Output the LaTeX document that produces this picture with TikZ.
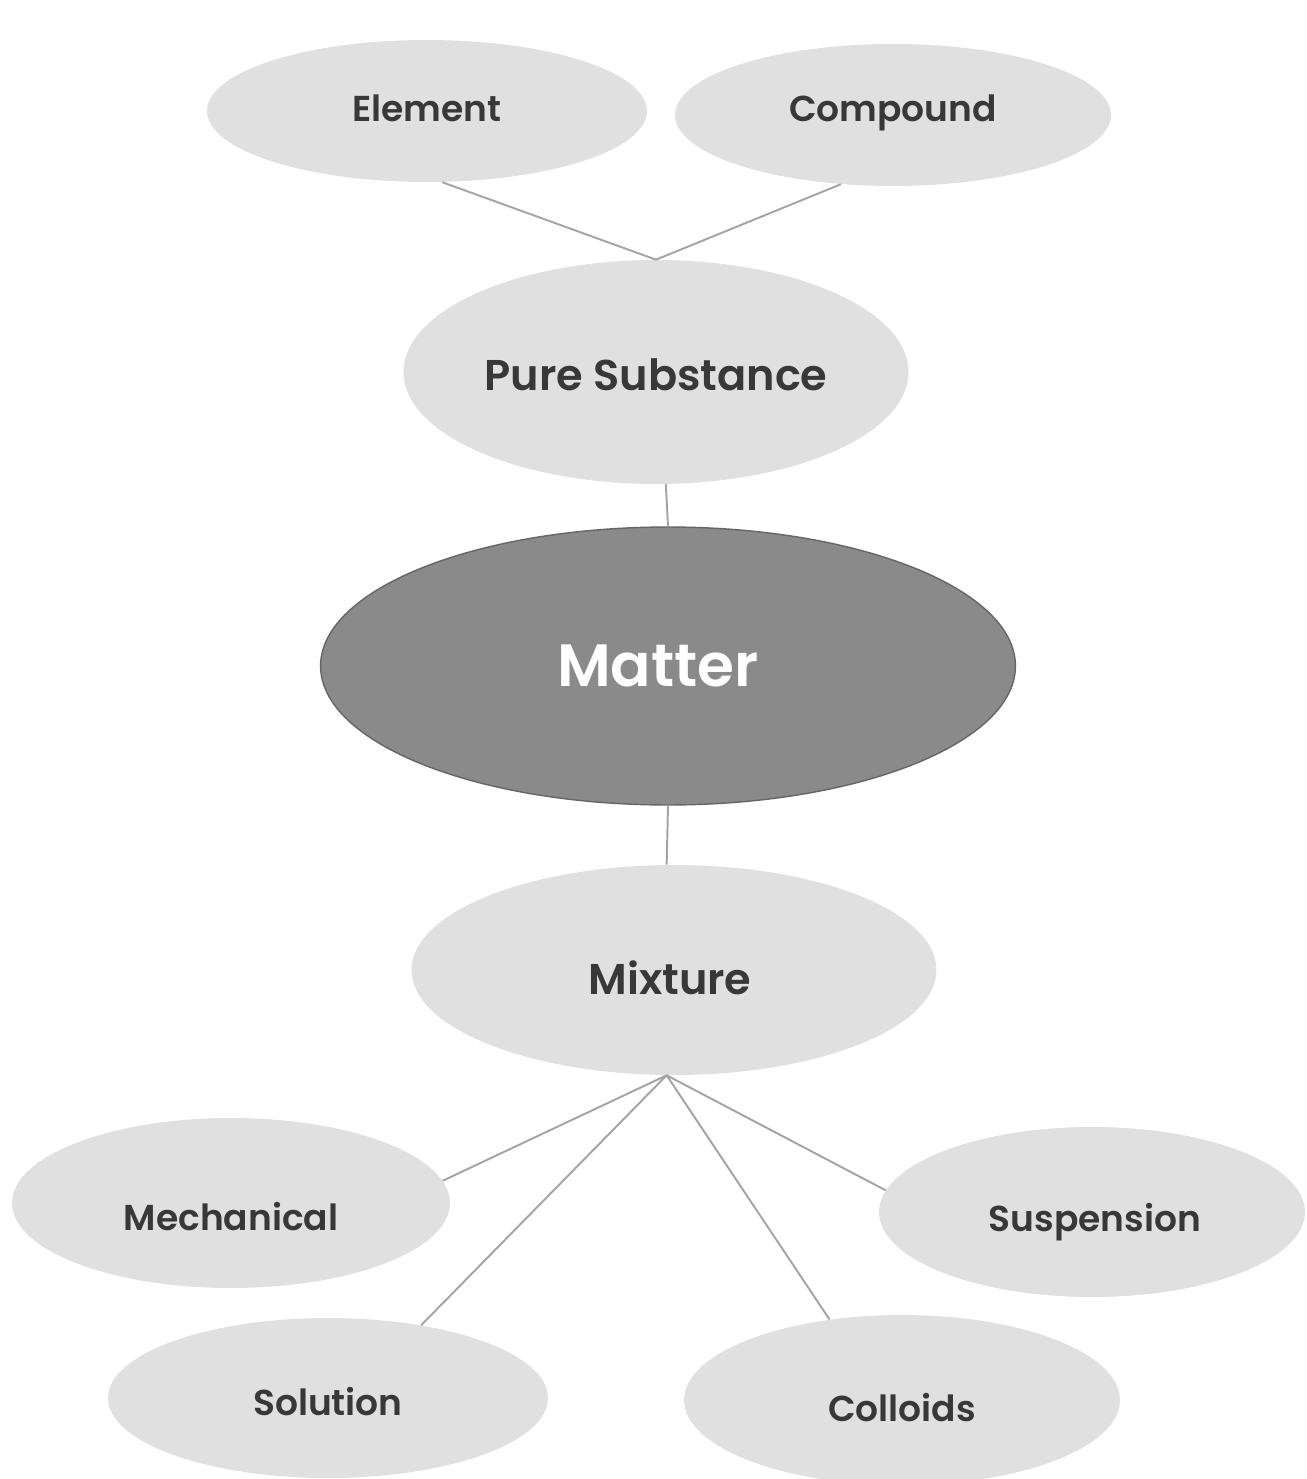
\documentclass[tikz,border=0pt]{standalone}
\usepackage{fontspec}
\setmainfont{Poppins}[BoldFont={Poppins SemiBold}]
\usetikzlibrary{shapes.geometric}
\definecolor{lightfill}{HTML}{E0E0E0}
\definecolor{darkfill}{HTML}{8A8A8A}
\definecolor{darkedge}{HTML}{666666}
\definecolor{txtc}{HTML}{383838}
\definecolor{linkc}{HTML}{A4A4A4}
\begin{document}
\begin{tikzpicture}[x=0.02cm,y=-0.02cm,
  bubble/.style={ellipse, fill=lightfill, draw=none, inner sep=0pt},
  smalltxt/.style={text=txtc, font=\bfseries\fontsize{20.5}{24}\selectfont},
  bigtxt/.style={text=txtc, font=\bfseries\fontsize{24.5}{28}\selectfont},
  coretxt/.style={text=white, font=\bfseries\fontsize{34}{40}\selectfont},
  core/.style={ellipse, fill=darkfill, draw=darkedge, line width=0.8pt, inner sep=0pt},
  link/.style={draw=linkc, line width=1.1pt}
]
\useasboundingbox (0,0) rectangle (1306,1479);
\fill[white] (0,0) rectangle (1306,1479);

\node[bubble, minimum width=8.8cm, minimum height=2.84cm,
  label={[smalltxt, shift={(0cm,0.06cm)}]center:Element}] (el) at (427,111) {};
\node[bubble, minimum width=8.72cm, minimum height=2.84cm,
  label={[smalltxt, shift={(0cm,0.04cm)}]center:Compound}] (co) at (893,115) {};
\node[bubble, minimum width=10.1cm, minimum height=4.48cm,
  label={[bigtxt, shift={(0cm,-0.06cm)}]center:Pure Substance}] (ps) at (656,372) {};
\node[core, minimum width=13.9cm, minimum height=5.56cm,
  label={[coretxt, shift={(-0.2cm,0cm)}]center:Matter}] (ma) at (668,666) {};
\node[bubble, minimum width=10.5cm, minimum height=4.2cm,
  label={[bigtxt, shift={(-0.08cm,-0.16cm)}]center:Mixture}] (mx) at (674,970) {};
\node[bubble, minimum width=8.76cm, minimum height=3.4cm,
  label={[smalltxt, shift={(0cm,-0.28cm)}]center:Mechanical}] (me) at (231,1203) {};
\node[bubble, minimum width=8.52cm, minimum height=3.4cm,
  label={[smalltxt, shift={(0.06cm,-0.2cm)}]center:Suspension}] (su) at (1092,1212) {};
\node[bubble, minimum width=8.8cm, minimum height=3.2cm,
  label={[smalltxt, shift={(0cm,-0.08cm)}]center:Solution}] (so) at (328,1398) {};
\node[bubble, minimum width=8.72cm, minimum height=3.4cm,
  label={[smalltxt, shift={(0cm,-0.16cm)}]center:Colloids}] (cl) at (902,1400) {};

\draw[link] (el.-78) -- (ps.north);
\draw[link] (co.-127) -- (ps.north);
\draw[link] (ps.-85) -- (ma.north);
\draw[link] (ma.south) -- (mx.94);
\draw[link] (mx.-94) -- (me.6);
\draw[link] (mx.-94) -- (so.38);
\draw[link] (mx.-94) -- (cl.132);
\draw[link] (mx.-94) -- (su.174);
\end{tikzpicture}
\end{document}
